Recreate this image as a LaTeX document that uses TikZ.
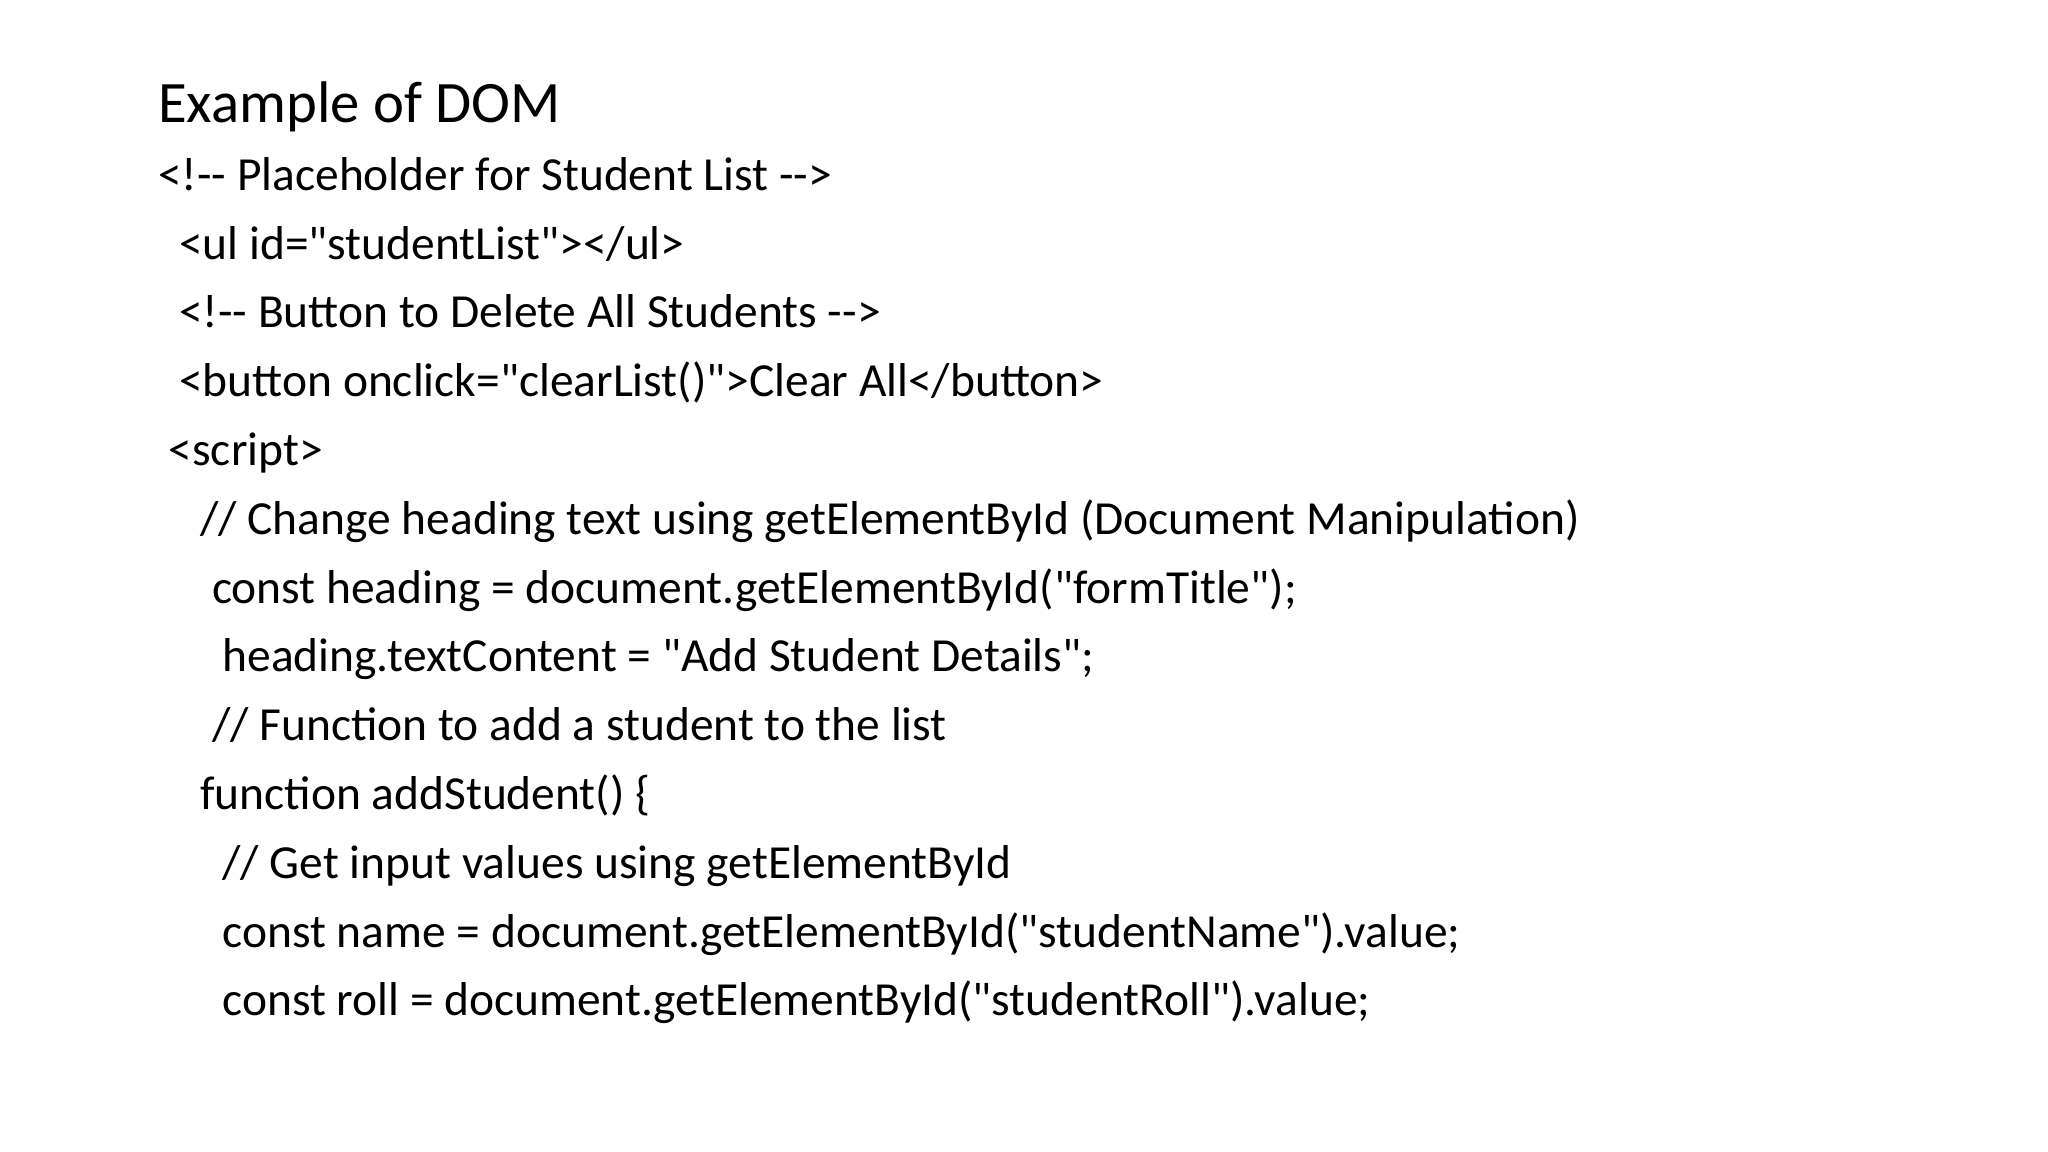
\documentclass[tikz,border=0pt]{standalone}
\usepackage{fontspec}
\setmainfont{Carlito}[Ligatures=TeXOff]
\begin{document}
\begin{tikzpicture}[x=0.01313cm,y=-0.01313cm,
  ln/.style={anchor=base west,inner sep=0pt,font=\fontsize{13.5pt}{16pt}\selectfont}]
\useasboundingbox (0,0) rectangle (1560,877.4);
\node[anchor=base west,inner sep=0pt,font=\fontsize{16.7pt}{19pt}\selectfont] (t) at (120,93) {Example of DOM};
\node[ln] (l1) at (120,145) {<!-- Placeholder for Student List -->};
\node[ln] (l2) at (136,197.4) {<ul id="studentList"></ul>};
\node[ln] (l3) at (136,249.8) {<!-- Button to Delete All Students -->};
\node[ln] (l4) at (136,302.2) {<button onclick="clearList()">Clear All</button>};
\node[ln] (l5) at (128,354.6) {<script>};
\node[ln] (l6) at (152,407) {// Change heading text using getElementById (Document Manipulation)};
\node[ln] (l7) at (161,459.4) {const heading = document.getElementById("formTitle");};
\node[ln] (l8) at (169,511.8) {heading.textContent = "Add Student Details";};
\node[ln] (l9) at (161,564.2) {// Function to add a student to the list};
\node[ln] (l10) at (152,616.6) {function addStudent() \{};
\node[ln] (l11) at (169,669) {// Get input values using getElementById};
\node[ln] (l12) at (169,721.4) {const name = document.getElementById("studentName").value;};
\node[ln] (l13) at (169,773.8) {const roll = document.getElementById("studentRoll").value;};
\end{tikzpicture}
\end{document}
